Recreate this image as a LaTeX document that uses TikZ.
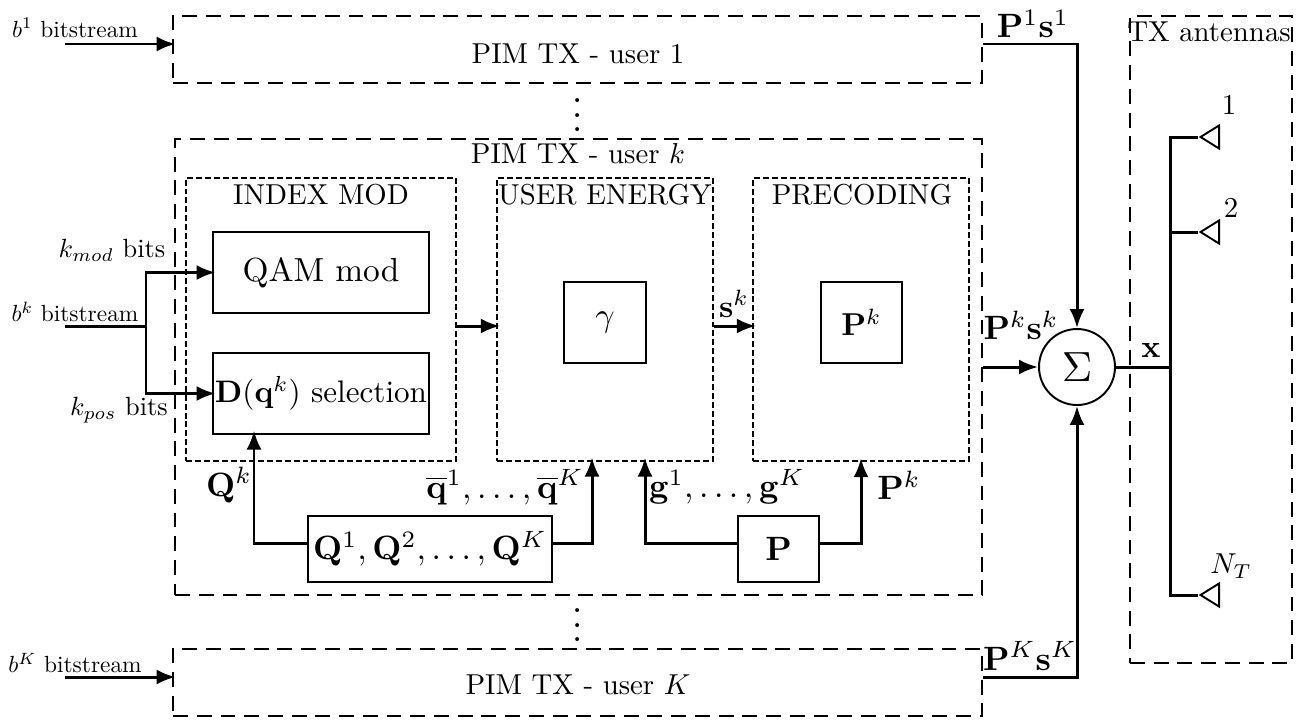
\documentclass[tikz,border=0pt]{standalone}
\usepackage{amsmath}
\usepackage{amssymb}
\usetikzlibrary{shapes,arrows.meta,positioning,calc}

\newcommand{\smalltxt}[1]{\scalebox{1.33}{#1}}
\newcommand{\labeltxt}[1]{\scalebox{1.64}{#1}}
\newcommand{\bitstxt}[1]{\scalebox{1.5}{#1}}
\newcommand{\mathtxt}[1]{\scalebox{1.92}{#1}}

\tikzset{
userbox/.style={draw,line width=1.1pt,dash pattern=on 8.5pt off 5pt,inner sep=0pt},
innerbox/.style={draw,line width=0.8pt,dash pattern=on 3.4pt off 1.7pt,inner sep=0pt},
blockbox/.style={draw,line width=1.1pt,inner sep=0pt},
sigline/.style={line width=1.7pt},
sigarrow/.style={line width=1.7pt,-{Latex[length=0.38cm,width=0.3cm]},shorten >=-0.07cm},
sumarrow/.style={line width=1.7pt,-{Latex[length=0.38cm,width=0.3cm]}},
antenna/.style={draw,line width=1.1pt,isosceles triangle,isosceles triangle stretches,shape border rotate=180,minimum height=0.37cm,minimum width=0.46cm,inner sep=0pt,anchor=apex}
}

\begin{document}
\begin{tikzpicture}[x=0.02cm,y=-0.02cm]
\useasboundingbox (0,0) rectangle (1301,721);

\node[userbox,minimum width=16.18cm,minimum height=1.34cm] (userone) at (577.5,49.5) {};
\node[userbox,minimum width=16.14cm,minimum height=9.12cm] (userk) at (578.5,367) {};
\node[userbox,minimum width=16.18cm,minimum height=1.34cm] (userK) at (577.5,682.5) {};
\node[userbox,minimum width=3.24cm,minimum height=12.94cm] (txant) at (1211,339.5) {};

\node[innerbox,minimum width=5.4cm,minimum height=5.66cm] (index) at (321,319.5) {};
\node[innerbox,minimum width=4.32cm,minimum height=5.66cm] (energy) at (605,319.5) {};
\node[innerbox,minimum width=4.32cm,minimum height=5.66cm] (precoding) at (861,319.5) {};

\node[blockbox,minimum width=4.32cm,minimum height=1.62cm] (qam) at (321,272.5) {\scalebox{1.9}{QAM mod}};
\node[blockbox,minimum width=4.32cm,minimum height=1.62cm] (dsel) at (321,393.5) {\scalebox{1.77}{$\mathbf{D}(\mathbf{q}^k)$ selection}};
\node[blockbox,minimum width=1.64cm,minimum height=1.62cm] (gamma) at (605,322.5) {\mathtxt{$\gamma$}};
\node[blockbox,minimum width=1.62cm,minimum height=1.62cm] (pk) at (861.5,322.5) {\scalebox{1.8}{$\mathbf{P}^k$}};
\node[blockbox,minimum width=4.88cm,minimum height=1.32cm] (qset) at (430,549) {\mathtxt{$\mathbf{Q}^1,\mathbf{Q}^2,\ldots,\mathbf{Q}^K$}};
\node[blockbox,minimum width=1.62cm,minimum height=1.32cm] (pset) at (778.5,549) {\mathtxt{$\mathbf{P}$}};
\node[draw,circle,line width=1.1pt,minimum size=1.52cm,inner sep=0pt] (sum) at (1077,367) {\scalebox{2.4}{$\Sigma$}};

\node[antenna] (anta) at (1198,137) {};
\node[antenna] (antb) at (1198,232) {};
\node[antenna] (antc) at (1198,595) {};

\coordinate (bone) at (65,44);
\coordinate (bmid) at (65,326);
\coordinate (bK) at (65,677);
\coordinate (split) at (146,326);
\coordinate (busx) at (1170,367);
\coordinate (botline) at (430,543);
\coordinate (qtip) at (254,434);
\coordinate (qbartip) at (592,461);
\coordinate (gtip) at (645,461);

\draw[sigarrow] (bone) -- (bone -| userone.west);
\draw[sigarrow] (bK) -- (bK -| userK.west);
\draw[sigline] (bmid) -- (split);
\draw[sigarrow] (split) |- (qam.west);
\draw[sigarrow] (split) |- (dsel.west);
\draw[sigarrow] (index.east |- bmid) -- (energy.west |- bmid);
\draw[sigarrow] (energy.east |- bmid) -- (precoding.west |- bmid);
\draw[sumarrow] (userone.east |- bone) -| (sum.north);
\draw[sumarrow] (userK.east |- bK) -| (sum.south);
\draw[sumarrow] (userk.east) -- (sum.west);
\draw[sigline] (sum.east) -- (busx);
\draw[sigline] (anta.apex) -| (busx);
\draw[sigline] (antb.apex) -- (antb.apex -| busx);
\draw[sigline] (antc.apex) -| (busx);
\draw[sigarrow] (qset.west |- botline) -| (qtip);
\draw[sigarrow] (qset.east |- botline) -| (qbartip);
\draw[sigarrow] (pset.west |- botline) -| (gtip);
\draw[sigarrow] (pset.east |- botline) -| (precoding.south);

\node (titleone) at (578,54) {\labeltxt{PIM TX - user 1}};
\node (titlek) at (578,154) {\labeltxt{PIM TX - user $k$}};
\node (titleK) at (578,685) {\labeltxt{PIM TX - user $K$}};
\node (titleindex) at (321,195) {\labeltxt{INDEX MOD}};
\node (titleenergy) at (605,195) {\labeltxt{USER ENERGY}};
\node (titleprec) at (862,195) {\labeltxt{PRECODING}};
\node (titleant) at (1209,32) {\labeltxt{TX antennas}};

\node (lbone) at (75,28) {\smalltxt{$b^1$ bitstream}};
\node (lbmid) at (75,312) {\smalltxt{$b^k$ bitstream}};
\node (lbK) at (75,663) {\smalltxt{$b^K$ bitstream}};
\node (lkmod) at (112,250) {\bitstxt{$k_{mod}$ bits}};
\node (lkpos) at (119,410) {\bitstxt{$k_{pos}$ bits}};

\node (lpone) at (1033,24) {\mathtxt{$\mathbf{P}^1\mathbf{s}^1$}};
\node (lpk) at (1021,325) {\mathtxt{$\mathbf{P}^k\mathbf{s}^k$}};
\node (lpK) at (1030,656) {\mathtxt{$\mathbf{P}^K\mathbf{s}^K$}};
\node (lsk) at (734,304) {\scalebox{1.8}{$\mathbf{s}^k$}};
\node (lx) at (1151,350) {\scalebox{1.8}{$\mathbf{x}$}};
\node (lqk) at (229,485) {\mathtxt{$\mathbf{Q}^k$}};
\node (lqbar) at (505,487) {\mathtxt{$\overline{\mathbf{q}}^1,\ldots,\overline{\mathbf{q}}^K$}};
\node (lg) at (727,487) {\mathtxt{$\mathbf{g}^1,\ldots,\mathbf{g}^K$}};
\node (lpkb) at (899,485) {\mathtxt{$\mathbf{P}^k$}};

\node (lantone) at (1229,105) {\labeltxt{1}};
\node (lanttwo) at (1231,208) {\labeltxt{2}};
\node (lantn) at (1231,566) {\labeltxt{$N_T$}};

\node (dotsup) at (578,104) {\scalebox{2.1}{$\vdots$}};
\node (dotsdown) at (578,614) {\scalebox{2.1}{$\vdots$}};
\end{tikzpicture}
\end{document}
